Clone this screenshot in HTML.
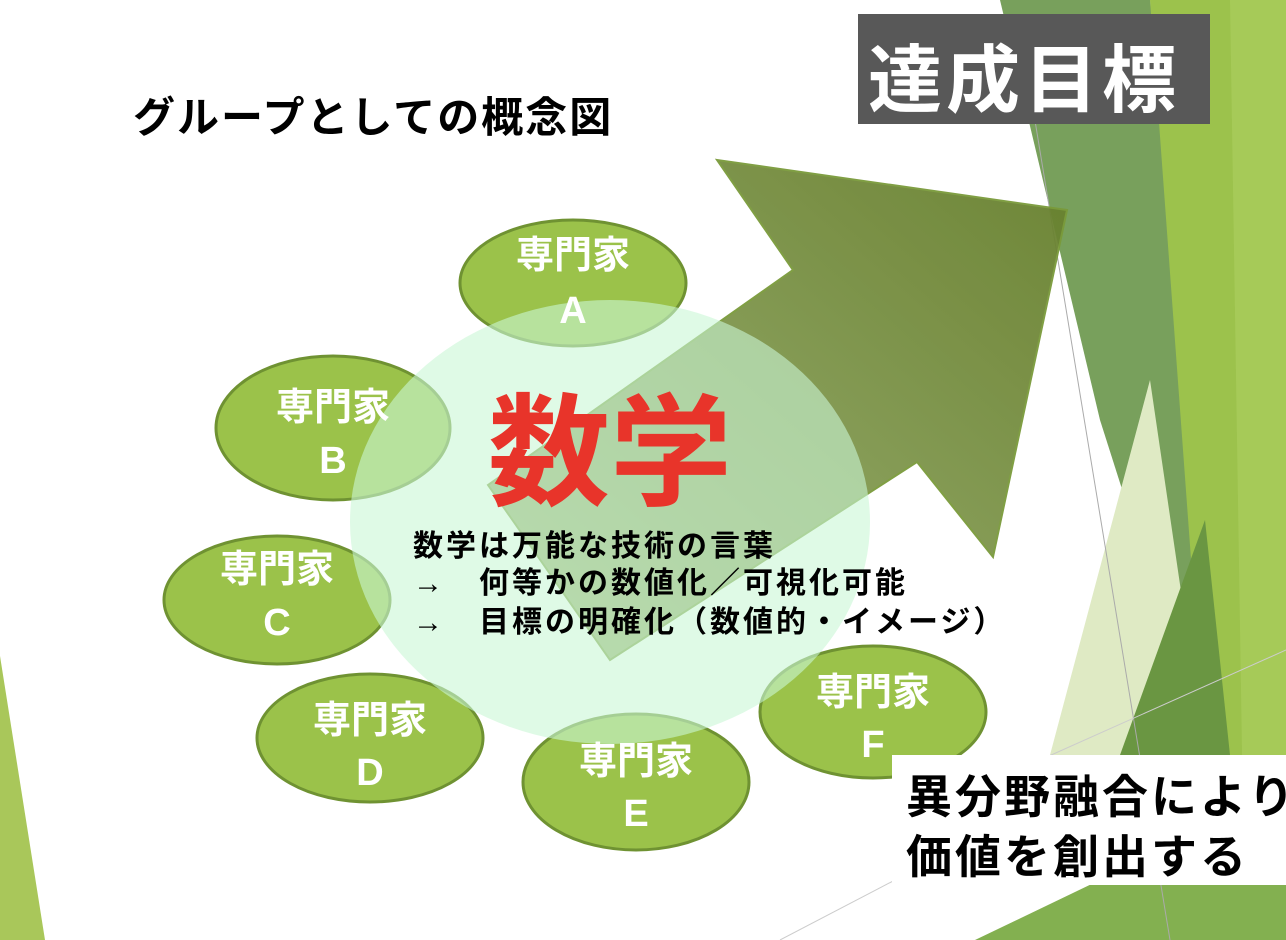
<!DOCTYPE html>
<html><head><meta charset="utf-8"><style>
html,body{margin:0;padding:0;background:#fff;}
svg{display:block;}
text{font-family:"Liberation Sans","Noto Sans CJK JP",sans-serif;font-weight:bold;}
</style></head><body>
<svg width="1286" height="940" viewBox="0 0 1286 940" xmlns="http://www.w3.org/2000/svg">
<defs>
<linearGradient id="ag" x1="1" y1="0" x2="0" y2="1">
<stop offset="0" stop-color="#667f2c"/><stop offset="1" stop-color="#9bb070"/>
</linearGradient>
</defs>
<polygon points="0,656 45,940 0,940" fill="#a9c75a"/>
<polygon points="1150,0 1286,0 1286,940 1180,940" fill="#9cc24c"/>
<polygon points="1230,0 1286,0 1286,940 1245,940" fill="#a6ca58"/>
<polygon points="1000,0 1150,0 1205,750 1100,420" fill="#78a05c"/>
<polygon points="1050,755 1150,380 1205,755" fill="#dfeac4"/>
<polygon points="1120,755 1205,520 1230,755" fill="#6a9642"/>
<polygon points="975,940 1100,880 1286,880 1286,940" fill="#83b050"/>
<line x1="1025" y1="60" x2="1170" y2="940" stroke="#aaa" stroke-width="1"/>
<line x1="1040" y1="760" x2="1286" y2="650" stroke="#ccc" stroke-width="1"/>
<line x1="780" y1="940" x2="895" y2="880" stroke="#ccc" stroke-width="1"/>
<polygon points="717,160 1067,210 993,557 917,462 610,660 488,485 793,270" fill="url(#ag)" stroke="#7a9a3a" stroke-width="2" opacity="0.95"/>
<g fill="#9bc24a" stroke="#6f9232" stroke-width="3">
<ellipse cx="573" cy="283" rx="113" ry="63"/>
<ellipse cx="333" cy="428" rx="117" ry="72"/>
<ellipse cx="277" cy="600" rx="113" ry="64"/>
<ellipse cx="370" cy="738" rx="113" ry="64"/>
<ellipse cx="636" cy="782" rx="113" ry="68"/>
<ellipse cx="873" cy="712" rx="113" ry="66"/>
</g>
<ellipse cx="610" cy="522" rx="260" ry="222" fill="#c9f7d6" opacity="0.6"/>
<g fill="#fff" font-size="38" text-anchor="middle">
<text x="573" y="268">専門家</text><text x="573" y="323">A</text>
<text x="333" y="420">専門家</text><text x="333" y="473">B</text>
<text x="277" y="582">専門家</text><text x="277" y="635">C</text>
<text x="370" y="733">専門家</text><text x="370" y="785">D</text>
<text x="636" y="774">専門家</text><text x="636" y="826">E</text>
<text x="873" y="705">専門家</text><text x="873" y="757">F</text>
</g>
<text x="133" y="132" font-size="42" letter-spacing="2" fill="#000">グループとしての概念図</text>
<text x="488" y="496" font-size="122" fill="#e8342a">数学</text>
<g font-size="30" fill="#000" letter-spacing="3">
<text x="413" y="556">数学は万能な技術の言葉</text>
<text x="413" y="593">→　何等かの数値化／可視化可能</text>
<text x="413" y="632">→　目標の明確化（数値的・イメージ）</text>
</g>
<rect x="858" y="14" width="352" height="110" fill="#585858"/>
<text x="868" y="106" font-size="74" fill="#fff" letter-spacing="4">達成目標</text>
<rect x="892" y="755" width="394" height="130" fill="#fff"/>
<g font-size="46" fill="#000" letter-spacing="3">
<text x="906" y="813">異分野融合により</text>
<text x="906" y="873">価値を創出する</text>
</g>
</svg>
</body></html>
